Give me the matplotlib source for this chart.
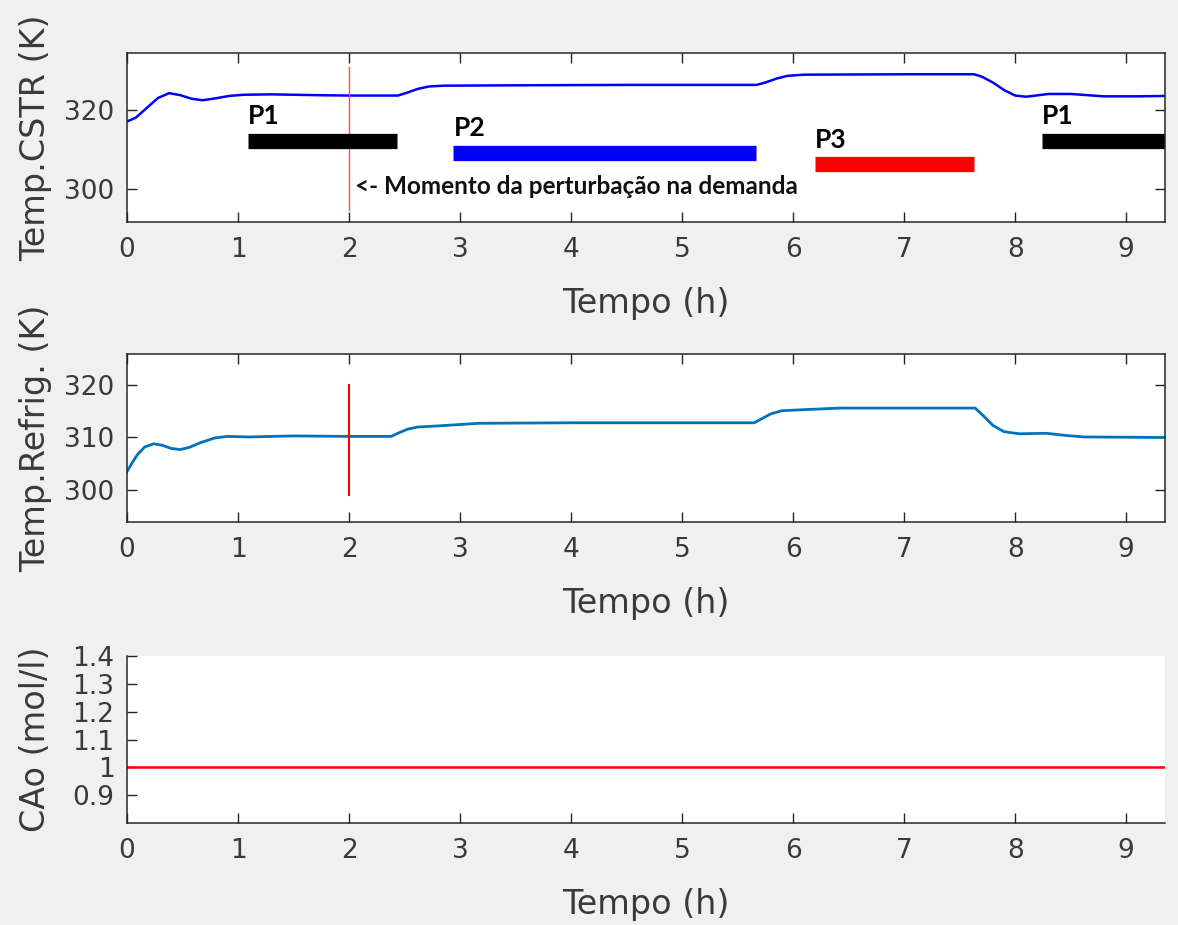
import matplotlib
matplotlib.use("Agg")
import matplotlib.pyplot as plt

plt.rcParams["font.family"] = ["DejaVu Sans"]

# Reactor temperature (K) over time (h)
t_cstr = [0.00, 0.08, 0.18, 0.28, 0.38, 0.48, 0.58, 0.68, 0.80, 0.92, 1.05, 1.3, 1.7,
          2.0, 2.44, 2.52, 2.62, 2.72, 2.85, 3.5, 4.5, 5.67, 5.75, 5.85, 5.95, 6.1,
          7.0, 7.63, 7.70, 7.80, 7.90, 8.00, 8.10, 8.3, 8.5, 8.8, 9.1, 9.35]
temp_cstr = [317.0, 318.0, 320.5, 323.0, 324.2, 323.7, 322.8, 322.4, 322.9, 323.5, 323.8,
             323.9, 323.7, 323.6, 323.6, 324.3, 325.3, 325.9, 326.1, 326.2, 326.3, 326.3,
             326.9, 327.9, 328.6, 328.9, 329.0, 329.0, 328.4, 326.9, 325.0, 323.6, 323.3,
             324.0, 324.0, 323.4, 323.4, 323.5]

# Coolant temperature (K) over time (h)
t_refrig = [0.00, 0.05, 0.10, 0.16, 0.24, 0.32, 0.40, 0.48, 0.56, 0.66, 0.79, 0.90, 1.1,
            1.5, 2.0, 2.38, 2.45, 2.53, 2.62, 2.8, 3.17, 4.0, 5.65, 5.72, 5.80, 5.9, 6.1,
            6.42, 7.64, 7.72, 7.80, 7.90, 8.04, 8.28, 8.45, 8.62, 9.35]
temp_refrig = [303.5, 305.3, 306.9, 308.2, 308.8, 308.5, 307.9, 307.7, 308.1, 309.0, 309.9,
               310.2, 310.1, 310.3, 310.2, 310.2, 310.9, 311.6, 312.0, 312.2, 312.7, 312.8,
               312.8, 313.6, 314.5, 315.1, 315.3, 315.6, 315.6, 314.0, 312.3, 311.1, 310.7,
               310.8, 310.4, 310.1, 310.0]

# Feed concentration (mol/l)
t_cao = [0.0, 9.35]
cao = [1.0, 1.0]

# Operating periods
period_labels = ["P1", "P2", "P3", "P1"]
period_start = [1.09, 2.94, 6.20, 8.24]
period_end = [2.43, 5.67, 7.63, 9.40]
period_level = [312.0, 309.0, 306.1, 312.0]
period_label_y = [315.3, 312.2, 309.3, 315.3]
period_colors = ["black", "#0000ff", "#ff0000", "black"]

disturbance_time = 2.0
annotation = "<- Momento da perturbação na demanda"

x_ticks = [0, 1, 2, 3, 4, 5, 6, 7, 8, 9]
x_max = 9.35

bg = "#f0f0f0"
axis_gray = "#262626"
tick_fs = 19
label_fs = 24

fig = plt.figure(figsize=(11.78, 9.25), dpi=100, facecolor=bg)
W, H = 1178, 925


def add_axes(left, top, right, bottom):
    return fig.add_axes([left / W, 1 - bottom / H, (right - left) / W, (bottom - top) / H])


def style(ax, box=True):
    for side in ["left", "bottom", "top", "right"]:
        ax.spines[side].set_color(axis_gray)
        ax.spines[side].set_linewidth(1.1)
    if not box:
        ax.spines["top"].set_visible(False)
        ax.spines["right"].set_visible(False)
    ax.tick_params(direction="in", length=7, width=1.0, colors=axis_gray,
                   labelsize=tick_fs, top=box, right=box, labelcolor="#3a3a3a")
    ax.tick_params(axis="x", pad=11)
    ax.tick_params(axis="y", pad=9)
    ax.set_xlim(0, x_max)
    ax.set_xticks(x_ticks)
    ax.set_xlabel("Tempo (h)", fontsize=label_fs, color="#3a3a3a", labelpad=17)


# Reactor temperature
ax1 = add_axes(127, 53, 1165, 222)
ax1.plot(t_cstr, temp_cstr, color="#0000ff", lw=1.8)
ax1.plot([disturbance_time, disturbance_time], [330.8, 294.6], color="#ff4d4d", lw=1.0)
for lab, x0, x1, lvl, ly, c in zip(period_labels, period_start, period_end,
                                   period_level, period_label_y, period_colors):
    ax1.plot([x0, x1], [lvl, lvl], color=c, lw=11, solid_capstyle="butt", clip_on=True)
    ax1.text(x0, ly, lab, fontsize=19, fontweight="bold", family="Lato",
             color="black", ha="left", va="bottom")
ax1.text(disturbance_time + 0.05, 300.6, annotation, fontsize=17.5, fontweight="bold",
         family="Lato", color="#111111", ha="left", va="center")
ax1.set_ylim(291.5, 334.4)
ax1.set_yticks([300, 320])
ax1.set_ylabel("Temp.CSTR (K)", fontsize=label_fs, color="#3a3a3a")
style(ax1)

# Coolant temperature
ax2 = add_axes(127, 354, 1165, 522)
ax2.plot(t_refrig, temp_refrig, color=(0, 0.447, 0.741), lw=2.0)
ax2.plot([disturbance_time, disturbance_time], [320.0, 299.0], color="#ff0000", lw=1.5)
ax2.set_ylim(293.9, 325.9)
ax2.set_yticks([300, 310, 320])
ax2.set_ylabel("Temp.Refrig. (K)", fontsize=label_fs, color="#3a3a3a")
style(ax2)

# Feed concentration
ax3 = add_axes(127, 656, 1165, 823)
ax3.plot(t_cao, cao, color="#ff0000", lw=1.8)
ax3.set_ylim(0.8, 1.4)
ax3.set_yticks([0.9, 1.0, 1.1, 1.2, 1.3, 1.4])
ax3.set_yticklabels(["0.9", "1", "1.1", "1.2", "1.3", "1.4"])
ax3.set_ylabel("CAo (mol/l)", fontsize=label_fs, color="#3a3a3a")
style(ax3, box=False)

for ax in (ax1, ax2, ax3):
    ax.yaxis.set_label_coords(-0.072, 0.5)

fig.savefig("out.png", dpi=100, facecolor=bg)
